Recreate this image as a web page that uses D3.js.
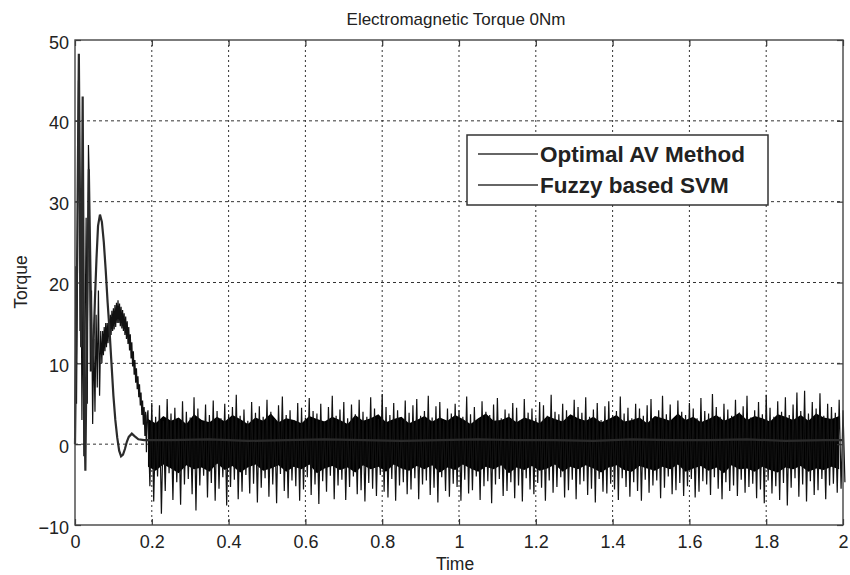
<!DOCTYPE html>
<html>
<head>
<meta charset="utf-8">
<script src="https://cdn.jsdelivr.net/npm/d3@7"></script>
<style>
  body { margin: 0; background: #fff; }
  text { font-family: Arial, "Liberation Sans", sans-serif; fill: #222; }
</style>
</head>
<body>
<div id="chart"></div>
<script>
// ---- data ----
const xTicks = [0, 0.2, 0.4, 0.6, 0.8, 1, 1.2, 1.4, 1.6, 1.8, 2];
const yTicks = [-10, 0, 10, 20, 30, 40, 50];
const seriesNames = ["Optimal AV Method", "Fuzzy based SVM"];

// Optimal AV Method: start-up transient (time, torque)
const avTime = [0, 0.002, 0.004, 0.006, 0.009, 0.011, 0.013, 0.016, 0.018, 0.021, 0.023, 0.026, 0.029, 0.032, 0.035, 0.037,
  0.040, 0.043, 0.046, 0.049, 0.052, 0.055, 0.058, 0.061, 0.064, 0.067,
  0.070, 0.072, 0.074, 0.076, 0.078, 0.080, 0.082, 0.084, 0.086, 0.088, 0.090, 0.092, 0.094, 0.096, 0.098,
  0.100, 0.102, 0.104, 0.106, 0.108, 0.110, 0.112, 0.114, 0.116, 0.118, 0.120, 0.122, 0.124, 0.126, 0.128,
  0.130, 0.132, 0.134, 0.136, 0.138, 0.140, 0.142, 0.144, 0.146, 0.148, 0.150, 0.152, 0.154, 0.156, 0.158,
  0.160, 0.162, 0.164, 0.166, 0.168, 0.170, 0.172, 0.174, 0.176, 0.178, 0.180, 0.182, 0.184, 0.186, 0.188];
const avValue = [2, 22, 5, 18, 45, 42, 14, 24, 3, 21, -1.5, 12, 28, 5, 37, 33,
  9, 19, 2.5, 13, 4, 16, 7, 19, 6, 14,
  10, 14, 11, 14.5, 11.5, 15, 12, 15, 12.5, 15.5, 13, 16, 13.5, 16.5, 14,
  16.8, 14.2, 17.2, 14.5, 17.5, 15, 17.8, 15, 17.4, 14.6, 17, 14.3, 16.6, 14, 16.2,
  13.5, 15.8, 13, 15.2, 12.4, 14.5, 11.6, 13.6, 10.6, 12.6, 9.6, 11.5, 8.6, 10.4, 7.6,
  9.4, 6.8, 8.4, 5.8, 7.4, 4.8, 6.4, 3.6, 5.4, 2.4, 4.6, 1, 4, -1, 3.5];

// Optimal AV Method: steady-state spikes, one high and one low every 0.01 s from 0.19 s
const avStart = 0.19;
const avStep = 0.01;
const avHigh = [
  4.2, 5.1, 3.4, 4.8, 2.9, 5.6, 3.8, 4.5, 3.1, 5.3,
  4.0, 3.3, 5.8, 4.4, 2.8, 4.9, 3.6, 5.4, 4.1, 3.2,
  5.0, 3.7, 4.6, 6.1, 3.5, 4.3, 2.9, 5.2, 3.9, 4.7,
  3.4, 5.5, 4.0, 3.1, 4.8, 5.9, 3.6, 4.2, 3.0, 5.1,
  4.5, 3.3, 5.7, 4.1, 3.8, 5.0, 2.8, 4.6, 6.0, 3.5,
  4.3, 5.2, 3.2, 4.9, 3.7, 5.5, 4.0, 3.4, 5.8, 4.4,
  3.1, 6.2, 4.6, 3.6, 5.1, 4.2, 3.0, 5.4, 3.9, 4.8,
  5.6, 3.5, 4.1, 6.0, 3.3, 4.7, 5.2, 2.9, 4.4, 3.8,
  5.0, 4.2, 3.4, 5.9, 3.7, 4.6, 3.1, 5.3, 4.0, 3.6,
  4.9, 5.7, 3.2, 4.3, 3.8, 5.1, 4.5, 3.0, 5.6, 3.9,
  4.4, 3.3, 5.2, 4.8, 3.5, 6.1, 4.0, 3.7, 5.0, 4.2,
  3.1, 5.5, 4.6, 3.9, 5.8, 3.4, 4.3, 5.1, 3.0, 4.7,
  5.3, 3.6, 4.1, 5.9, 3.8, 4.5, 3.2, 5.0, 4.4, 3.5,
  4.8, 5.6, 3.3, 4.2, 6.0, 3.7, 4.9, 3.1, 5.4, 4.0,
  3.6, 5.1, 4.4, 3.2, 5.7, 4.1, 3.8, 6.2, 4.6, 3.4,
  5.0, 4.3, 3.5, 5.5, 3.9, 4.7, 6.0, 3.3, 4.2, 5.2,
  3.7, 6.1, 4.5, 3.4, 5.3, 4.0, 5.8, 3.6, 4.9, 6.4,
  4.1, 6.6, 3.8, 5.2, 4.4, 6.3, 3.5, 5.0, 4.6, 3.9,
  5.5, 4.2];
const avLow = [
  -5.2, -7.1, -4.0, -8.6, -5.8, -3.6, -6.9, -4.7, -7.5, -5.0,
  -4.3, -6.2, -8.2, -5.1, -3.9, -6.6, -4.8, -7.0, -5.5, -4.1,
  -7.6, -5.3, -4.4, -6.8, -5.9, -3.8, -6.1, -4.9, -7.2, -5.4,
  -4.2, -6.5, -5.0, -7.3, -3.7, -5.8, -6.7, -4.5, -5.2, -7.0,
  -5.6, -4.1, -6.3, -5.0, -7.4, -4.6, -5.9, -3.9, -6.8, -5.1,
  -4.4, -6.9, -5.3, -4.0, -6.2, -5.7, -7.1, -4.8, -5.5, -6.4,
  -3.8, -5.9, -6.6, -4.3, -7.0, -5.1, -4.7, -6.2, -5.6, -4.2,
  -6.8, -5.0, -4.5, -6.3, -5.4, -7.2, -4.1, -5.8, -6.5, -4.9,
  -5.3, -7.0, -4.4, -6.1, -5.7, -4.0, -6.9, -5.2, -4.6, -7.3,
  -5.0, -4.3, -6.4, -5.8, -4.7, -6.7, -5.1, -7.1, -4.2, -5.6,
  -6.2, -4.8, -5.4, -7.0, -4.5, -6.0, -5.3, -4.1, -6.6, -5.7,
  -4.4, -6.8, -5.0, -4.6, -6.3, -5.5, -7.2, -4.3, -5.9, -6.1,
  -4.9, -5.6, -6.9, -4.2, -5.3, -6.5, -4.7, -5.8, -7.0, -4.4,
  -6.0, -5.1, -4.5, -6.7, -5.4, -4.0, -6.2, -5.7, -4.8, -6.4,
  -5.2, -4.3, -6.6, -5.9, -4.6, -5.0, -6.3, -4.1, -5.5, -6.8,
  -4.7, -5.8, -5.1, -6.4, -4.4, -6.0, -5.3, -4.9, -6.7, -5.6,
  -7.3, -4.5, -6.1, -5.2, -6.9, -4.8, -7.6, -5.4, -4.2, -6.5,
  -5.0, -7.1, -4.6, -6.3, -5.7, -4.3, -6.8, -5.1, -4.9, -6.0,
  -5.5, -4.7];

// Optimal AV Method: edges of the dense (solid black) ripple band, every 0.02 s from 0.19 s
const bandStep = 0.02;
const avBandTop = [
  3.1, 2.6, 3.5, 2.9, 3.3, 2.5, 3.7, 3.0, 2.7, 3.4,
  2.8, 3.6, 3.1, 2.5, 3.3, 2.9, 3.8, 2.7, 3.2, 3.0,
  2.6, 3.5, 3.1, 2.8, 3.4, 3.0, 2.5, 3.6, 2.9, 3.2,
  3.7, 2.7, 3.1, 3.4, 2.6, 3.0, 3.5, 2.8, 3.3, 2.9,
  3.6, 3.1, 2.5, 3.2, 3.8, 2.9, 3.0, 3.4, 2.7, 3.3,
  3.0, 2.6, 3.5, 3.1, 2.8, 3.7, 3.2, 2.9, 3.4, 2.7,
  3.1, 3.6, 2.8, 3.0, 3.3, 2.6, 3.5, 3.2, 2.9, 3.8,
  3.0, 3.4, 2.7, 3.1, 3.6, 2.9, 3.3, 3.9, 3.0, 3.5,
  3.2, 2.8, 3.7, 3.4, 3.0, 3.6, 2.9, 3.8, 3.3, 3.1,
  3.5];
const avBandBottom = [
  -2.8, -3.3, -2.5, -3.0, -3.6, -2.6, -3.1, -2.9, -3.4, -2.4,
  -3.2, -2.7, -3.5, -2.9, -2.5, -3.3, -3.0, -2.6, -3.4, -2.8,
  -3.1, -2.5, -3.6, -3.0, -2.7, -3.2, -2.9, -3.5, -2.6, -3.1,
  -2.8, -3.4, -2.5, -3.0, -3.3, -2.7, -3.1, -2.6, -3.5, -2.9,
  -3.2, -2.5, -3.0, -3.4, -2.8, -3.1, -2.6, -3.6, -2.9, -3.2,
  -2.7, -3.3, -3.0, -2.5, -3.4, -2.8, -3.1, -2.6, -3.0, -3.5,
  -2.9, -2.6, -3.2, -3.4, -2.7, -3.0, -3.3, -2.8, -3.1, -2.5,
  -3.4, -3.0, -2.7, -3.3, -2.9, -3.6, -2.6, -3.1, -3.0, -3.4,
  -2.8, -3.2, -3.5, -2.9, -3.1, -2.7, -3.4, -3.0, -3.2, -2.8,
  -3.1];

// Fuzzy based SVM (time, torque)
const fuzzyTime = [0, 0.005, 0.010, 0.013, 0.016, 0.020, 0.024, 0.027, 0.031, 0.036, 0.040, 0.044,
  0.048, 0.052, 0.056, 0.060, 0.065, 0.070, 0.075, 0.080, 0.085, 0.090, 0.095, 0.100,
  0.105, 0.110, 0.115, 0.120, 0.125, 0.130, 0.135, 0.140, 0.148, 0.155, 0.165, 0.180,
  0.25, 0.35, 0.45, 0.55, 0.65, 0.75, 0.85, 0.95, 1.05, 1.15, 1.25, 1.35, 1.45, 1.55,
  1.65, 1.75, 1.85, 1.95, 2.0];
const fuzzyValue = [0, 20, 48.3, 30, 12, 43, 6, -3.3, 15, 34, 22, 9,
  12, 18, 23, 27, 28.4, 27.5, 25, 21.5, 17.5, 14, 10, 6,
  3, 0.8, -0.8, -1.5, -1.3, -0.6, 0.3, 0.9, 1.3, 1.0, 0.6, 0.5,
  0.5, 0.6, 0.4, 0.5, 0.6, 0.5, 0.4, 0.5, 0.6, 0.5, 0.5, 0.4, 0.6, 0.5,
  0.5, 0.6, 0.4, 0.5, 0.5];

// ---- layout ----
const width = 850;
const height = 575;
const margin = { top: 40, right: 7, bottom: 50, left: 75 };

const x = d3.scaleLinear().domain([0, 2]).range([margin.left, width - margin.right]);
const y = d3.scaleLinear().domain([-10, 50]).range([height - margin.bottom, margin.top]);

const svg = d3.select("#chart").append("svg")
  .attr("width", width)
  .attr("height", height);

// build point lists
const avPoints = avTime.map((t, i) => [t, avValue[i]]);
avHigh.forEach((h, i) => {
  avPoints.push([avStart + i * avStep, h]);
  avPoints.push([avStart + i * avStep + avStep / 2, avLow[i]]);
});
const bandPoints = avBandTop.map((top, i) => ({ t: Math.min(avStart + i * bandStep, 2), top: top, bottom: avBandBottom[i] }));
const fuzzyPoints = fuzzyTime.map((t, i) => [t, fuzzyValue[i]]);

// grid
const grid = svg.append("g").attr("class", "grid");
grid.selectAll(".vgrid")
  .data(xTicks.slice(1, -1))
  .enter().append("line")
  .attr("x1", d => x(d)).attr("x2", d => x(d))
  .attr("y1", y(50)).attr("y2", y(-10))
  .attr("stroke", "#333").attr("stroke-width", 1)
  .attr("stroke-dasharray", "2,3");
grid.selectAll(".hgrid")
  .data(yTicks.slice(1, -1))
  .enter().append("line")
  .attr("x1", x(0)).attr("x2", x(2))
  .attr("y1", d => y(d)).attr("y2", d => y(d))
  .attr("stroke", "#333").attr("stroke-width", 1)
  .attr("stroke-dasharray", "3,3");

// series
const line = d3.line().x(d => x(d[0])).y(d => y(d[1]));
const band = d3.area()
  .x(d => x(d.t))
  .y0(d => y(d.bottom))
  .y1(d => y(d.top));

svg.append("path")
  .datum(bandPoints)
  .attr("d", band)
  .attr("fill", "#000");

svg.append("path")
  .datum(avPoints)
  .attr("d", line)
  .attr("fill", "none")
  .attr("stroke", "#111")
  .attr("stroke-width", 1.2);

svg.append("path")
  .datum(fuzzyPoints)
  .attr("d", line)
  .attr("fill", "none")
  .attr("stroke", "#2b2b2b")
  .attr("stroke-width", 2.2);

// axes (MATLAB style box with inner ticks)
const tickLen = 6;
svg.append("g")
  .attr("transform", `translate(0,${y(-10)})`)
  .call(d3.axisBottom(x).tickValues(xTicks).tickFormat(d3.format("~g")).tickSizeInner(-tickLen).tickSizeOuter(0).tickPadding(10))
  .call(g => g.select(".domain").remove());
svg.append("g")
  .attr("transform", `translate(0,${y(50)})`)
  .call(d3.axisTop(x).tickValues(xTicks).tickFormat("").tickSizeInner(-tickLen).tickSizeOuter(0))
  .call(g => g.select(".domain").remove());
svg.append("g")
  .attr("class", "yaxis")
  .attr("transform", `translate(${x(0)},0)`)
  .call(d3.axisLeft(y).tickValues(yTicks).tickSizeInner(-tickLen).tickSizeOuter(0).tickPadding(6))
  .call(g => g.select(".domain").remove());
svg.append("g")
  .attr("transform", `translate(${x(2)},0)`)
  .call(d3.axisRight(y).tickValues(yTicks).tickFormat("").tickSizeInner(-tickLen).tickSizeOuter(0))
  .call(g => g.select(".domain").remove());

svg.selectAll(".tick line").attr("stroke", "#333").attr("stroke-width", 1.2);
svg.selectAll(".tick text")
  .style("font-family", "Arial, 'Liberation Sans', sans-serif")
  .style("font-size", "18px")
  .attr("fill", "#222");
svg.selectAll(".yaxis .tick text").attr("dy", "0.45em");

svg.append("rect")
  .attr("x", x(0)).attr("y", y(50))
  .attr("width", x(2) - x(0)).attr("height", y(-10) - y(50))
  .attr("fill", "none")
  .attr("stroke", "#444")
  .attr("stroke-width", 1.4);

// titles
svg.append("text")
  .attr("x", 456).attr("y", 25)
  .style("text-anchor", "middle")
  .style("font-size", "17px")
  .text("Electromagnetic Torque 0Nm");

svg.append("text")
  .attr("x", 455).attr("y", 570)
  .style("text-anchor", "middle")
  .style("font-size", "17.5px")
  .text("Time");

svg.append("text")
  .attr("transform", "translate(27,282) rotate(-90)")
  .style("text-anchor", "middle")
  .style("font-size", "17.5px")
  .text("Torque");

// legend
const legend = svg.append("g").attr("class", "legend");
legend.append("rect")
  .attr("x", 467).attr("y", 135)
  .attr("width", 301).attr("height", 70)
  .attr("fill", "#fff")
  .attr("stroke", "#333")
  .attr("stroke-width", 1.5);

const items = legend.selectAll(".item")
  .data(seriesNames)
  .enter().append("g")
  .attr("transform", (d, i) => `translate(0,${154 + i * 31})`);
items.append("line")
  .attr("x1", 478).attr("x2", 538)
  .attr("stroke", "#333").attr("stroke-width", 1.5);
items.append("text")
  .attr("x", 540).attr("y", 8)
  .style("font-size", "22.5px")
  .style("font-weight", "bold")
  .attr("fill", "#111")
  .text(d => d);
</script>
</body>
</html>
